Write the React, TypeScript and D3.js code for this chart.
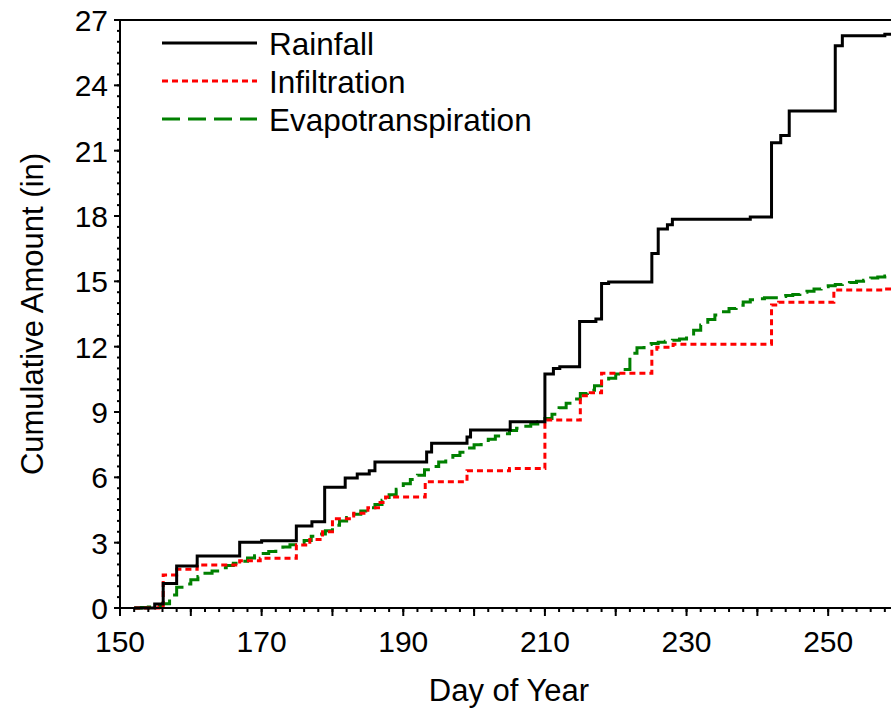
import React from 'react';
import * as d3 from 'd3';

// Rainfall: step changes (day, cumulative inches)
const rainfallDays = [152, 154.9, 156.1, 158.0, 160.9, 166.9, 170.0, 174.9, 177.1, 178.9, 181.8, 183.5, 185.2, 186.0, 193.3, 194.0, 199.0, 199.5, 205.1, 210.0, 211.2, 212.1, 214.9, 217.2, 218.0, 219.0, 225.1, 226.0, 227.3, 228.0, 239.0, 242.0, 243.3, 244.5, 251.0, 252.0, 258.0, 260];
const rainfallAmounts = [0, 0.18, 1.13, 1.93, 2.39, 3.02, 3.09, 3.76, 3.96, 5.55, 5.97, 6.15, 6.3, 6.7, 7.16, 7.57, 7.85, 8.17, 8.55, 10.74, 11.0, 11.08, 13.15, 13.27, 14.9, 14.97, 16.28, 17.4, 17.6, 17.85, 17.95, 21.36, 21.7, 22.82, 25.82, 26.28, 26.35, 26.35];

// Infiltration: step changes
const infiltrationDays = [152, 155.5, 156.1, 158.0, 160.9, 166.9, 169.8, 174.9, 176.8, 178.6, 180.0, 183.0, 185.0, 186.5, 187.5, 193.1, 199.0, 205.0, 210.0, 215.0, 216.4, 218.0, 225.1, 225.8, 228.1, 242.0, 243.0, 250.8, 258.0, 260];
const infiltrationAmounts = [0, 0.05, 1.52, 1.78, 1.97, 2.17, 2.28, 2.89, 3.15, 3.5, 4.1, 4.35, 4.6, 4.85, 5.1, 5.8, 6.3, 6.4, 8.63, 9.75, 9.88, 10.78, 11.88, 11.97, 12.11, 13.91, 14.04, 14.6, 14.65, 14.65];

// Evapotranspiration: daily cumulative values starting at day 152
const etStartDay = 152;
const etAmounts = [
  0.0, 0.02, 0.05, 0.1, 0.2, 0.6, 0.95, 1.1, 1.3, 1.45,
  1.6, 1.7, 1.85, 1.95, 2.05, 2.15, 2.3, 2.4, 2.5, 2.6,
  2.7, 2.8, 2.9, 3.0, 3.1, 3.3, 3.4, 3.55, 3.8, 4.0,
  4.15, 4.3, 4.45, 4.6, 4.75, 4.95, 5.2, 5.45, 5.7, 5.9,
  6.1, 6.35, 6.5, 6.7, 6.85, 7.0, 7.15, 7.35, 7.5, 7.6,
  7.75, 7.9, 8.0, 8.15, 8.25, 8.35, 8.45, 8.55, 8.7, 8.9,
  9.2, 9.4, 9.6, 9.85, 10.0, 10.2, 10.4, 10.55, 10.75, 10.95,
  11.7, 11.95, 12.1, 12.15, 12.2, 12.25, 12.3, 12.35, 12.5, 12.75,
  13.0, 13.25, 13.45, 13.6, 13.75, 13.9, 14.05, 14.15, 14.2, 14.25,
  14.25, 14.3, 14.35, 14.4, 14.5, 14.55, 14.65, 14.75, 14.8, 14.85,
  14.9, 14.95, 15.0, 15.05, 15.15, 15.2, 15.25, 15.3
];

const xTickLabels = [150, 170, 190, 210, 230, 250];
const yTickLabels = [0, 3, 6, 9, 12, 15, 18, 21, 24, 27];

const seriesNames = ['Rainfall', 'Infiltration', 'Evapotranspiration'];
const seriesColors = ['#000000', '#ff0000', '#008000'];
const seriesDash = ['none', '6,4', '18,8'];

const W = 891, H = 710;
const FONT = '"Liberation Sans", Arial, sans-serif';

export default function App() {
  const x = d3.scaleLinear().domain([150, 260]).range([120, 899]);
  const y = d3.scaleLinear().domain([0, 27]).range([608, 20]);

  const line = d3.line<[number, number]>()
    .x(d => x(d[0]))
    .y(d => y(d[1]))
    .curve(d3.curveStepAfter);

  const rain: [number, number][] = rainfallDays.map((d, i) => [d, rainfallAmounts[i]]);
  const inf: [number, number][] = infiltrationDays.map((d, i) => [d, infiltrationAmounts[i]]);
  const et: [number, number][] = etAmounts.map((v, i) => [etStartDay + i, v]);
  et.push([260, etAmounts[etAmounts.length - 1]]);

  const paths = [line(rain), line(inf), line(et)];

  const xMinor = d3.range(150, 261, 2);
  const xMajor = d3.range(150, 261, 10);
  const yMinor = d3.range(0, 27.01, 0.5);
  const yMajor = d3.range(0, 27.01, 3);

  return (
    <svg width={W} height={H} style={{ position: 'absolute', left: 0, top: 0, display: 'block', background: '#fff' }}>
      <defs>
        <clipPath id="plotclip">
          <rect x={120} y={18} width={779} height={592} />
        </clipPath>
      </defs>
      {/* series */}
      <g clipPath="url(#plotclip)" fill="none">
        {[2, 1, 0].map(i => (
          <path key={i} d={paths[i] || ''} stroke={seriesColors[i]} strokeWidth={3}
            strokeDasharray={seriesDash[i]} strokeLinejoin="miter" />
        ))}
      </g>
      {/* frame */}
      <g stroke="#000" strokeWidth={2} fill="none">
        <line x1={120} y1={20} x2={899} y2={20} />
        <line x1={120} y1={608} x2={899} y2={608} />
        <line x1={120} y1={19} x2={120} y2={609} />
        <line x1={899} y1={20} x2={899} y2={608} />
      </g>
      {/* ticks */}
      <g stroke="#000" strokeWidth={2}>
        {xMinor.map(d => <line key={'xm' + d} x1={x(d)} x2={x(d)} y1={608} y2={612} />)}
        {xMajor.map(d => <line key={'xM' + d} x1={x(d)} x2={x(d)} y1={608} y2={616} />)}
        {yMinor.map(v => <line key={'ym' + v} x1={120} x2={117} y1={y(v)} y2={y(v)} />)}
        {yMajor.map(v => <line key={'yM' + v} x1={120} x2={114} y1={y(v)} y2={y(v)} />)}
      </g>
      <g fontFamily={FONT} fontSize={30} fill="#000">
        {xTickLabels.map(d => (
          <text key={'xl' + d} x={x(d)} y={652} textAnchor="middle">{d}</text>
        ))}
        {yTickLabels.map(v => (
          <text key={'yl' + v} x={108} y={y(v) + 11} textAnchor="end">{v}</text>
        ))}
      </g>
      {/* axis titles */}
      <text x={509} y={701} textAnchor="middle" fontFamily={FONT} fontSize={31}>Day of Year</text>
      <text transform={`translate(43,${(20 + 608) / 2}) rotate(-90)`} textAnchor="middle" fontFamily={FONT} fontSize={31}>Cumulative Amount (in)</text>
      {/* legend */}
      <g fontFamily={FONT} fontSize={31.5}>
        {seriesNames.map((n, i) => (
          <g key={n} transform={`translate(0,${43 + i * 38})`}>
            <line x1={162} x2={257} y1={0} y2={0} stroke={seriesColors[i]} strokeWidth={3}
              strokeDasharray={seriesDash[i]} />
            <text x={269} y={12} fill="#000">{n}</text>
          </g>
        ))}
      </g>
    </svg>
  );
}
